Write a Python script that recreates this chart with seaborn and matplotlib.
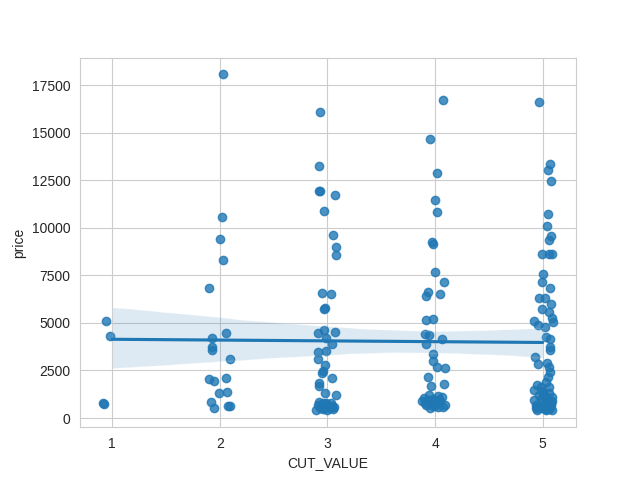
import numpy as np
import pandas as pd
import matplotlib
matplotlib.use("Agg")
import matplotlib.pyplot as plt
import seaborn as sns

# CUT_VALUE positions as they appear (with jitter) and price
cut_1 = [0.94, 0.98, 0.91, 0.92]
price_1 = [5080, 4290, 780, 760]

cut_2 = [2.03, 2.02, 2.00, 2.03, 1.90, 1.93, 2.06, 1.93, 1.93, 2.09,
         1.90, 1.95, 2.06, 1.99, 2.07, 1.92, 1.95, 2.08, 2.09]
price_2 = [18080, 10580, 9420, 8300, 6830, 4200, 4470, 3720, 3580, 3100,
           2050, 1950, 2090, 1330, 1370, 830, 530, 650, 620]

cut_3 = [2.93, 2.92, 2.92, 2.93, 3.07, 2.97, 3.05, 3.08, 3.08, 2.95,
         3.03, 2.97, 2.98, 2.91, 2.97, 3.07, 2.99, 3.04, 2.91, 2.99,
         2.91, 2.98, 2.96, 2.95, 3.04, 2.92, 2.92, 2.98, 3.08, 2.91,
         2.97, 3.03, 3.06, 2.89, 3.00, 2.94, 2.92, 3.02, 3.05, 2.96,
         2.99, 2.93, 2.99, 3.04, 2.96]
price_3 = [16120, 13280, 11930, 11930, 11760, 10910, 9620, 9000, 8600, 6600,
           6550, 5710, 5770, 4450, 4620, 4540, 4190, 3900, 3470, 3520,
           3090, 2790, 2470, 2350, 2120, 1860, 1700, 1300, 1210, 680,
           590, 770, 590, 420, 420, 700, 860, 500, 450, 480,
           650, 550, 800, 650, 800]

cut_4 = [4.07, 3.95, 4.02, 4.00, 4.02, 3.97, 3.98, 4.00, 4.08, 3.93,
         3.92, 4.05, 3.92, 3.98, 3.91, 3.94, 3.92, 4.06, 3.98, 3.98,
         4.02, 4.09, 3.93, 3.96, 4.08, 3.90, 3.93, 3.97, 4.01, 4.06,
         3.92, 3.99, 4.03, 4.07, 3.95, 3.94, 4.03, 3.88, 4.09, 3.98,
         4.05, 3.91, 3.97, 4.04, 4.00]
price_4 = [16750, 14700, 12910, 11490, 10860, 9270, 9180, 7700, 7150, 6640,
           6400, 6510, 5150, 5200, 4400, 4360, 3890, 4140, 3360, 3000,
           2680, 2640, 2170, 1690, 1800, 1050, 950, 870, 780, 1100,
           700, 620, 560, 560, 520, 1200, 1150, 900, 700, 1000,
           880, 800, 700, 950, 750]

cut_5 = [4.97, 5.07, 5.05, 5.08, 5.05, 5.04, 5.08, 5.06, 4.99, 5.06,
         5.09, 5.00, 4.99, 5.07, 4.97, 5.02, 5.08, 4.99, 5.06, 5.09,
         5.10, 4.92, 4.96, 5.02, 5.03, 5.07, 5.07, 5.07, 4.93, 4.96,
         5.04, 5.06, 5.07, 5.05, 5.03, 4.95, 4.98, 5.06, 4.92, 5.00,
         5.06, 5.09, 4.92, 4.99, 5.04, 5.08, 4.95, 5.00, 5.06, 4.95,
         5.03, 5.09, 4.98, 5.02, 5.09, 4.94, 4.97, 5.03, 5.08, 4.94,
         5.01, 5.05, 4.99, 5.07, 5.02, 4.96]
price_5 = [16640, 13380, 13030, 12450, 10720, 10090, 9560, 9390, 8650, 8620,
           8620, 7570, 7140, 6820, 6290, 6290, 6000, 5710, 5590, 5240,
           5060, 5100, 4890, 4800, 4270, 4150, 3750, 3570, 3190, 2840,
           2880, 2700, 2430, 2170, 1910, 1730, 1650, 1640, 1470, 1300,
           1300, 1120, 950, 860, 770, 680, 600, 510, 460, 420,
           400, 420, 1000, 1150, 900, 700, 1200, 1050, 800, 550,
           650, 900, 1400, 500, 450, 500]

df = pd.DataFrame({
    "cut_pos": cut_1 + cut_2 + cut_3 + cut_4 + cut_5,
    "price": price_1 + price_2 + price_3 + price_4 + price_5,
})
df["CUT_VALUE"] = np.rint(df["cut_pos"]).astype(int)

sns.set_style("whitegrid")
plt.rcParams["font.family"] = ["Liberation Sans", "DejaVu Sans"]
fig, ax = plt.subplots(figsize=(6.4, 4.8), dpi=100)

# scatter at the jittered positions, fit on the integer values
sns.regplot(data=df, x="cut_pos", y="price", fit_reg=False, color="#1f77b4", ax=ax)
sns.regplot(data=df, x="CUT_VALUE", y="price", scatter=False, color="#1f77b4",
            seed=3, ax=ax)

ax.set_xlabel("CUT_VALUE")
ax.set_ylabel("price")

plt.savefig("out.png", dpi=100)
